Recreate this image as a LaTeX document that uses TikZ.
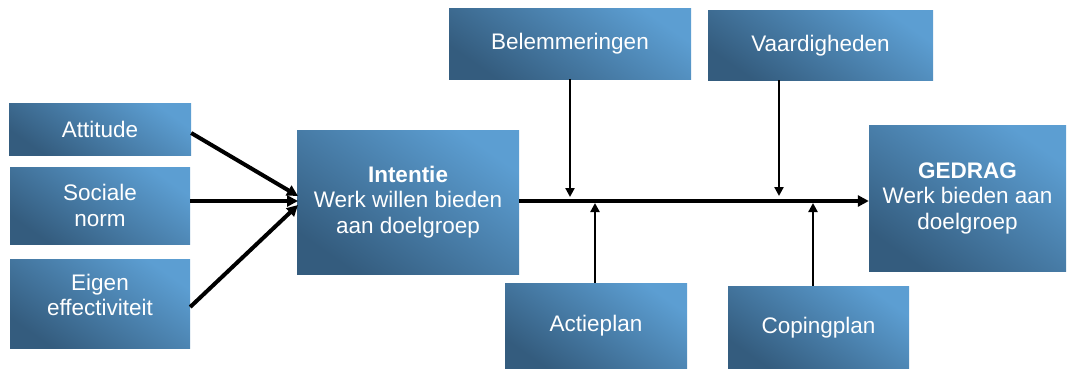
\documentclass[tikz,border=0pt]{standalone}
\usepackage{fontspec}
\setmainfont{Liberation Sans}
\usetikzlibrary{arrows.meta}
\definecolor{boxlight}{RGB}{92,158,210}
\definecolor{boxdark}{RGB}{52,92,126}
\tikzset{
  box/.style={rectangle, inner sep=0pt, align=center, text=white,
    shading=axis, top color=boxlight, bottom color=boxdark, shading angle=-35,
    font=\fontsize{22.5}{25.5}\selectfont},
  thickarrow/.style={line width=4pt, -{Triangle[length=11pt,width=11pt]}},
  thinarrow/.style={line width=2.5pt, -{Triangle[length=9pt,width=9pt]}}
}
\begin{document}
\begin{tikzpicture}[x=1pt,y=-1pt]
\useasboundingbox (0,0) rectangle (1067,369);
% boxes
\node[box, minimum width=182pt, minimum height=52pt] (att) at (100,129) {Attitude};
\node[box, minimum width=180pt, minimum height=77pt] (soc) at (100,205.5) {Sociale\\norm};
\node[box, minimum width=180pt, minimum height=89pt] (eig) at (100,303.5) {Eigen\\effectiviteit\\[-8pt]\mbox{}};
\node[box, minimum width=222pt, minimum height=144pt] (int) at (408,202) {\textbf{Intentie}\\Werk willen bieden\\aan doelgroep};
\node[box, minimum width=242pt, minimum height=70pt] (bel) at (570,44) {Belemmeringen};
\node[box, minimum width=225pt, minimum height=69pt] (vaa) at (820.5,45.5) {Vaardigheden};
\node[box, minimum width=197pt, minimum height=146pt] (ged) at (967.5,198) {\textbf{GEDRAG}\\Werk bieden aan\\doelgroep};
\node[box, minimum width=182pt, minimum height=86pt] (act) at (596,326) {Actieplan};
\node[box, minimum width=181pt, minimum height=83pt] (cop) at (818.5,327.5) {Copingplan};
% coordinates
\coordinate (m) at (0,201);
\coordinate (t1) at (298,196);
\coordinate (t2) at (298,201);
\coordinate (t3) at (298,205);
\coordinate (bx) at (570,197);
\coordinate (vx) at (779,196);
\coordinate (ax) at (595,203);
\coordinate (cx) at (813,203);
% arrows
\draw[thickarrow] (att.east |- 0,133) -- (t1);
\draw[thickarrow] (soc.east |- t2) -- (t2);
\draw[thickarrow] (eig.east |- 0,307) -- (t3);
\draw[thickarrow] (int.east |- m) -- (ged.west |- m);
\draw[thinarrow] (bel.south) -- (bx);
\draw[thinarrow] (vx |- vaa.south) -- (vx);
\draw[thinarrow] (ax |- act.north) -- (ax);
\draw[thinarrow] (cx |- cop.north) -- (cx);
\end{tikzpicture}
\end{document}
